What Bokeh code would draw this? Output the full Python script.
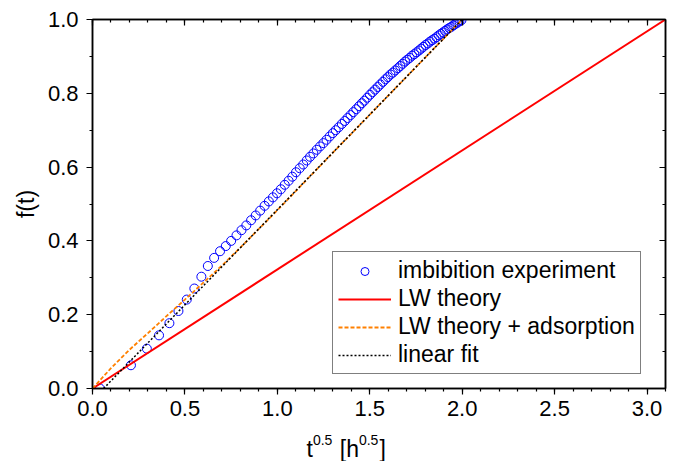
from bokeh.plotting import figure
from bokeh.layouts import column
from bokeh.models import (Range1d, LinearAxis, SingleIntervalTicker, NumeralTickFormatter,
                          CustomJSTickFormatter, Legend, LegendItem, Label)
from bokeh.embed import file_html
from bokeh.resources import INLINE

# ---- data ----
exp_x = [0.040, 0.208, 0.294, 0.360, 0.416, 0.465, 0.510, 0.551, 0.589, 0.624,
         0.658, 0.690, 0.721, 0.750, 0.779, 0.806, 0.832, 0.858, 0.883, 0.907,
         0.931, 0.954, 0.976, 0.998, 1.019, 1.040, 1.061, 1.081, 1.101, 1.121,
         1.140, 1.159, 1.177, 1.195, 1.213, 1.231, 1.249, 1.266, 1.283, 1.300,
         1.316, 1.332, 1.349, 1.365, 1.380, 1.396, 1.411, 1.427, 1.442, 1.457,
         1.471, 1.486, 1.501, 1.515, 1.529, 1.543, 1.557, 1.571, 1.585, 1.598,
         1.612, 1.625, 1.638, 1.652, 1.665, 1.678, 1.691, 1.703, 1.716, 1.729,
         1.741, 1.753, 1.766, 1.778, 1.790, 1.802, 1.814, 1.826, 1.838, 1.850,
         1.861, 1.873, 1.884, 1.896, 1.907, 1.918, 1.930, 1.941, 1.952, 1.963,
         1.974, 1.985, 1.996]
exp_y = [0.000, 0.063, 0.108, 0.144, 0.177, 0.210, 0.241, 0.271, 0.303, 0.332,
         0.354, 0.372, 0.386, 0.400, 0.415, 0.429, 0.442, 0.456, 0.469, 0.482,
         0.495, 0.507, 0.518, 0.529, 0.540, 0.552, 0.563, 0.574, 0.586, 0.597,
         0.607, 0.618, 0.628, 0.637, 0.647, 0.656, 0.665, 0.674, 0.683, 0.692,
         0.700, 0.708, 0.717, 0.725, 0.733, 0.741, 0.749, 0.757, 0.765, 0.773,
         0.780, 0.788, 0.796, 0.803, 0.810, 0.817, 0.824, 0.831, 0.838, 0.844,
         0.851, 0.856, 0.862, 0.868, 0.874, 0.880, 0.886, 0.891, 0.896, 0.902,
         0.906, 0.911, 0.916, 0.921, 0.926, 0.931, 0.935, 0.940, 0.944, 0.948,
         0.952, 0.957, 0.961, 0.965, 0.969, 0.973, 0.977, 0.980, 0.984, 0.988,
         0.991, 0.995, 0.998]

lw_x = [0.0, 3.1]
lw_y = [0.0, 1.0]

ads_x = [0.0, 0.1, 0.2, 0.3, 0.4, 0.5, 0.6, 0.7, 0.8, 1.0, 1.2, 1.5, 1.8, 2.0]
ads_y = [0.0, 0.055, 0.105, 0.150, 0.196, 0.241, 0.287, 0.333, 0.382, 0.483,
         0.587, 0.742, 0.897, 1.0]

fit_x = [0.06, 2.0]
fit_y = [0.0, 1.0]

legend_labels = ["imbibition experiment", "LW theory", "LW theory + adsorption", "linear fit"]
y_label = "f(t)"
x_label_parts = ["t", "0.5", "[h", "0.5", "]"]

FONT = "Liberation Sans"
FS = 22

p = figure(width=685, height=426, output_backend="svg", toolbar_location=None,
           x_range=Range1d(0, 3.1), y_range=Range1d(0, 1.0),
           min_border_left=92, min_border_right=20, min_border_top=19, min_border_bottom=38,
           x_axis_location=None, y_axis_location=None)
p.grid.visible = False
p.outline_line_color = "black"
p.outline_line_width = 1.5
p.background_fill_color = "white"
p.border_fill_color = "white"

xt = SingleIntervalTicker(interval=0.5, num_minor_ticks=5)
yt = SingleIntervalTicker(interval=0.2, num_minor_ticks=2)


def style(ax, labels=True, inward=False, standoff=8):
    ax.axis_line_color = "black"
    ax.axis_line_width = 1.5
    ax.major_tick_line_color = "black"
    ax.minor_tick_line_color = "black"
    ax.major_tick_line_width = 1.2
    ax.minor_tick_line_width = 1.2
    if inward:
        ax.major_tick_in, ax.major_tick_out = 6, 0
        ax.minor_tick_in, ax.minor_tick_out = 3, 0
    else:
        ax.major_tick_in, ax.major_tick_out = 0, 6
        ax.minor_tick_in, ax.minor_tick_out = 0, 3
    if labels:
        ax.major_label_text_font = FONT
        ax.major_label_text_font_size = f"{FS}px"
        ax.major_label_text_color = "black"
        ax.major_label_standoff = standoff
        ax.formatter = NumeralTickFormatter(format="0.0")
    else:
        ax.formatter = CustomJSTickFormatter(code="return ''")
        ax.major_label_text_font_size = "10px"
        ax.major_label_standoff = 0


bx = LinearAxis(ticker=xt)
style(bx, standoff=6)
p.add_layout(bx, "below")
lx = LinearAxis(ticker=yt, axis_label=y_label)
style(lx, standoff=8)
lx.axis_label_text_font = FONT
lx.axis_label_text_font_size = "23px"
lx.axis_label_text_font_style = "normal"
lx.axis_label_text_color = "black"
lx.axis_label_standoff = 6
p.add_layout(lx, "left")
tx = LinearAxis(ticker=xt)
style(tx, labels=False, inward=True)
p.add_layout(tx, "above")
rx = LinearAxis(ticker=yt)
style(rx, labels=False, inward=True)
p.add_layout(rx, "right")

r_exp = p.scatter(exp_x, exp_y, marker="circle", size=9, fill_color=None,
                  line_color="#0000FF", line_width=1)
r_lw = p.line(lw_x, lw_y, line_color="#FF0000", line_width=2)
r_ads = p.line(ads_x, ads_y, line_color="#FF8000", line_width=1.8, line_dash="4 2")
r_fit = p.line(fit_x, fit_y, line_color="black", line_width=1.5, line_dash="2 2")

legend = Legend(items=[LegendItem(label=legend_labels[0], renderers=[r_exp]),
                       LegendItem(label=legend_labels[1], renderers=[r_lw]),
                       LegendItem(label=legend_labels[2], renderers=[r_ads]),
                       LegendItem(label=legend_labels[3], renderers=[r_fit])],
                location=(240, 14), orientation="vertical")
legend.label_text_font = FONT
legend.label_text_font_size = "23px"
legend.label_text_color = "black"
legend.glyph_width = 53
legend.glyph_height = 20
legend.label_height = 20
legend.label_standoff = 7
legend.spacing = 1
legend.padding = 5
legend.margin = 0
legend.border_line_color = "black"
legend.border_line_width = 1.2
legend.background_fill_color = "white"
legend.background_fill_alpha = 1.0
p.add_layout(legend)

# x-axis title (with superscripts) in a thin strip under the plot
p2 = figure(width=685, height=35, output_backend="svg", toolbar_location=None,
            x_range=Range1d(0, 1), y_range=Range1d(0, 1),
            min_border_left=92, min_border_right=20, min_border_top=0, min_border_bottom=0,
            x_axis_location=None, y_axis_location=None)
p2.grid.visible = False
p2.outline_line_color = None
p2.background_fill_color = "white"
p2.border_fill_color = "white"

big, small = 23, 14
widths = {"t": 0.278, "[": 0.278, "]": 0.278, "h": 0.556, " ": 0.278, "0": 0.556, ".": 0.278, "5": 0.556}
sx = 214.0  # relative to the frame's left edge
for i, part in enumerate(x_label_parts):
    sup = part == "0.5"
    size = small if sup else big
    if part == "[h":
        sx += widths[" "] * big
    p2.add_layout(Label(x=sx, y=22 if sup else 13, x_units="screen", y_units="screen",
                        text=part, text_font=FONT, text_font_size=f"{size}px",
                        text_color="black", text_baseline="alphabetic", text_align="left"))
    sx += sum(widths[c] for c in part) * size + (1 if sup else 0)

layout = column(p, p2, spacing=0)
open("out.html", "w").write(file_html(layout, INLINE))
